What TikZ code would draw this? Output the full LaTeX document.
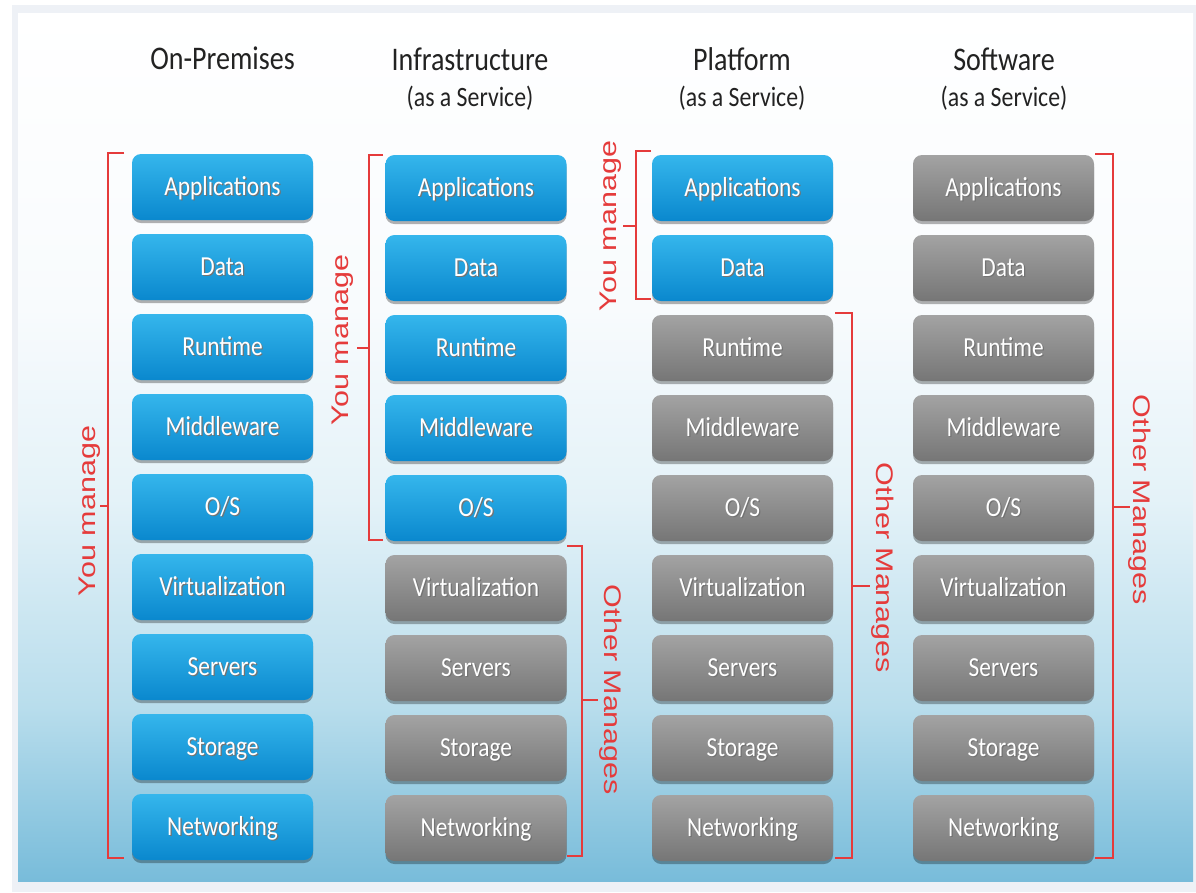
\documentclass[tikz,border=0pt]{standalone}
\usepackage{fontspec}
\setmainfont{Carlito}
\newfontfamily\boxfont{Carlito}[FakeStretch=0.85]
\newfontfamily\brfont{Liberation Sans}[FakeStretch=1.27]
\usetikzlibrary{shadows}
\definecolor{blueT}{HTML}{35B6EC}
\definecolor{blueB}{HTML}{0A88CE}
\definecolor{grayT}{HTML}{A3A3A3}
\definecolor{grayB}{HTML}{767676}
\definecolor{redc}{HTML}{E53B3B}
\definecolor{hdrc}{HTML}{222222}
\definecolor{framec}{HTML}{EEF1F6}
\definecolor{bgB}{HTML}{78BCDA}
\definecolor{bgL}{HTML}{B8DDEC}
\definecolor{bgM}{HTML}{E4F2F8}
\definecolor{bgT}{HTML}{F8FBFD}
\pgfdeclareverticalshading{bgshade}{100bp}{color(0bp)=(bgB); color(25bp)=(bgB); color(35bp)=(bgL); color(47bp)=(bgM); color(58bp)=(bgT); color(75bp)=(white); color(100bp)=(white)}
\newcommand\shtext[1]{\leavevmode\rlap{\kern1.2pt\raisebox{-1.4pt}{\textcolor{black!55}{#1}}}#1}
\tikzset{
  box/.style={rounded corners=9pt, minimum width=181pt, minimum height=66pt, inner sep=0pt,
    text height=17pt, text depth=0pt,
    font=\boxfont\fontsize{27.5}{27.5}\selectfont, text=white,
    drop shadow={shadow xshift=0pt, shadow yshift=-3pt, opacity=0.3, fill=black}},
  bluebox/.style={box, top color=blueT, bottom color=blueB},
  graybox/.style={box, top color=grayT, bottom color=grayB},
  hdr/.style={anchor=base, font=\boxfont\fontsize{33}{33}\selectfont, text=hdrc},
  subhdr/.style={anchor=base, font=\boxfont\fontsize{28}{28}\selectfont, text=hdrc},
  bracket/.style={draw=redc, line width=2.2pt},
  brlabel/.style={font=\brfont\fontsize{24}{24}\selectfont, text=redc, inner sep=0pt, text height=17pt, text depth=0pt},
}
\begin{document}
\begin{tikzpicture}[x=1pt,y=-1pt]
\useasboundingbox (0,0) rectangle (1196,892);
\fill[white] (0,0) rectangle (1196,892);
\fill[framec] (12,5) rectangle (1196,892);
\shade[shading=bgshade] (18,13) rectangle (1193,881);
% headers
\node[hdr] (h1) at (222.5,69) {On-Premises};
\node[hdr] (h2) at (470,70) {Infrastructure};
\node[subhdr] (s2) at (470,106) {(as a Service)};
\node[hdr] (h3) at (742,70) {Platform};
\node[subhdr] (s3) at (742,106) {(as a Service)};
\node[hdr] (h4) at (1004,70) {Software};
\node[subhdr] (s4) at (1004,106) {(as a Service)};
% boxes
\foreach \t [count=\i] in {Applications,Data,Runtime,Middleware,O/S,Virtualization,Servers,Storage,Networking}{
  \node[bluebox] (a\i) at (222.5,{187+80*(\i-1)}) {\shtext{\t}};
  \ifnum\i>5 \def\st{graybox}\else\def\st{bluebox}\fi
  \node[\st] (b\i) at (476,{188+80*(\i-1)}) {\shtext{\t}};
  \ifnum\i>2 \def\st{graybox}\else\def\st{bluebox}\fi
  \node[\st] (c\i) at (742.5,{188+80*(\i-1)}) {\shtext{\t}};
  \node[graybox] (d\i) at (1003.5,{188+80*(\i-1)}) {\shtext{\t}};
}
% brackets
\draw[bracket] (124,153) -- (108,153) -- (108,858) -- (124,858);
\draw[bracket] (108,506) -- (100,506);
\node[brlabel, rotate=90] (l1) at (87,511) {You manage};
\draw[bracket] (383,155) -- (369,155) -- (369,540) -- (383,540);
\draw[bracket] (369,348) -- (357,348);
\node[brlabel, rotate=90] (l2) at (340,340) {You manage};
\draw[bracket] (567,546) -- (582,546) -- (582,856) -- (567,856);
\draw[bracket] (582,700) -- (598,700);
\node[brlabel, rotate=-90] (l3) at (613,690) {Other Manages};
\draw[bracket] (651,151) -- (636,151) -- (636,299) -- (651,299);
\draw[bracket] (636,226) -- (623,226);
\node[brlabel, rotate=90] (l4) at (608,226) {You manage};
\draw[bracket] (835,313) -- (852,313) -- (852,858) -- (835,858);
\draw[bracket] (852,586) -- (870,586);
\node[brlabel, rotate=-90] (l5) at (885,568) {Other Manages};
\draw[bracket] (1095,154) -- (1113,154) -- (1113,858) -- (1095,858);
\draw[bracket] (1113,507) -- (1130,507);
\node[brlabel, rotate=-90] (l6) at (1142,500) {Other Manages};
\end{tikzpicture}
\end{document}
